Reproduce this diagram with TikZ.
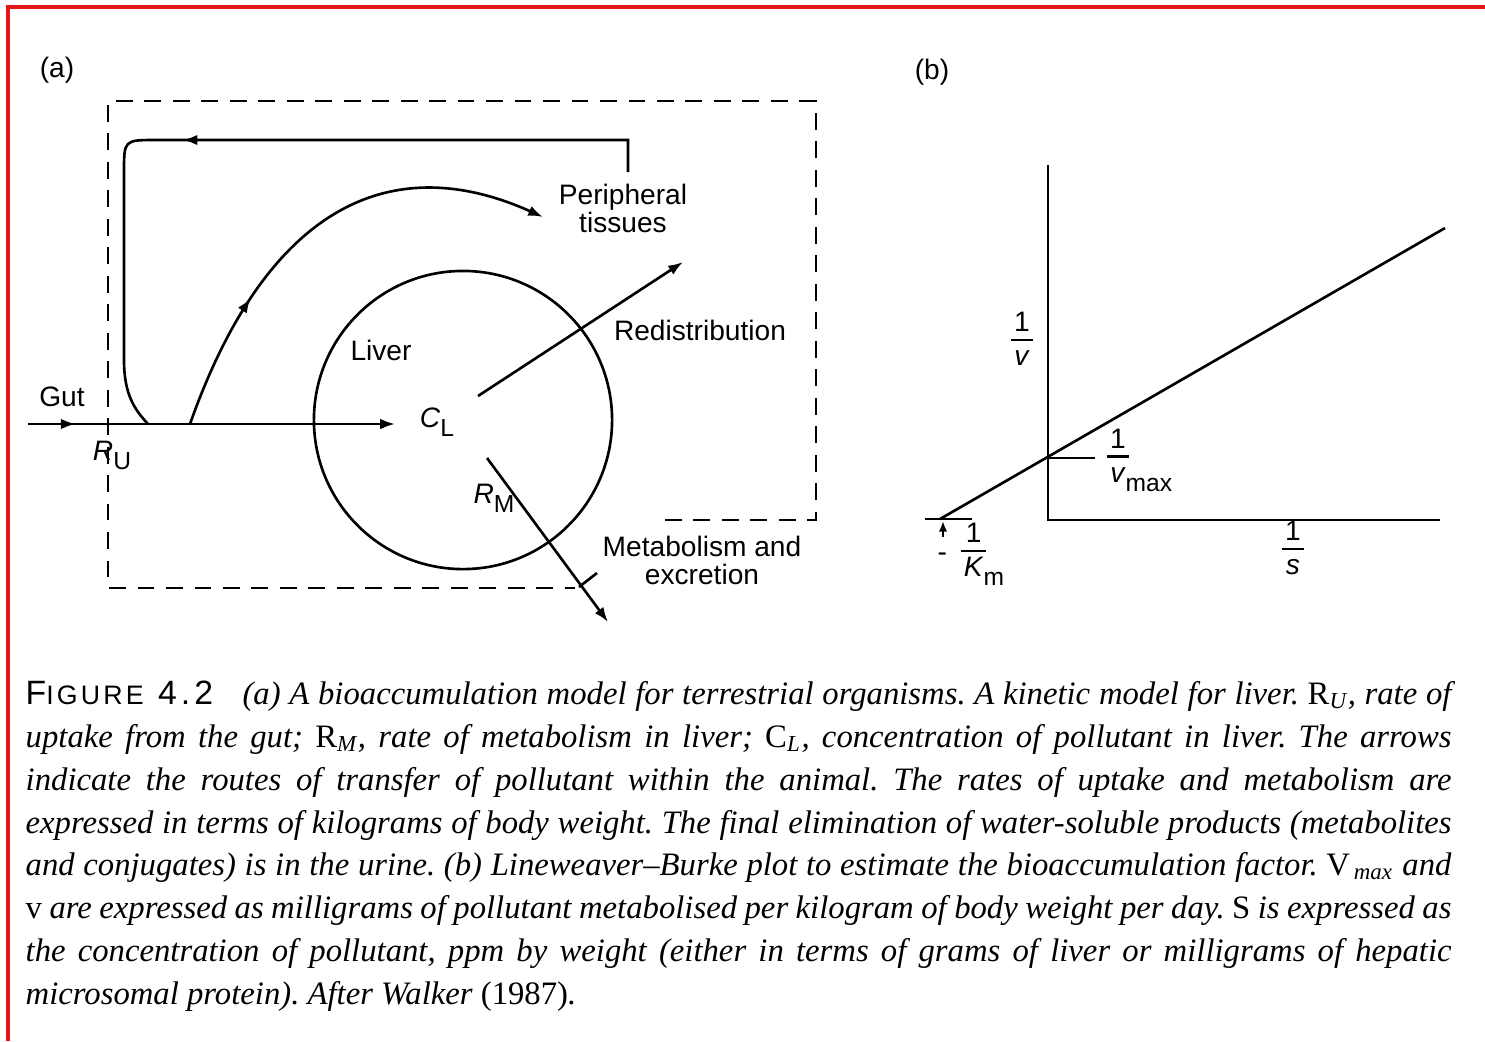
\documentclass[tikz,border=0pt]{standalone}
\usepackage{fontspec}
\setmainfont{Liberation Sans}
\newfontfamily\capfont[Ligatures=TeX]{Liberation Serif}
\newfontfamily\figfont[LetterSpace=12]{Liberation Sans}
\usetikzlibrary{arrows.meta,decorations.markings}
\definecolor{FrameRed}{RGB}{228,20,24}
\newcommand{\lsub}[1]{\raisebox{-0.6ex}{\fontsize{7}{8}\selectfont #1}}
\newcommand{\ofrac}[1]{\ensuremath{\vcenter{\hbox{\setlength{\arrayrulewidth}{0.6pt}%
  \begin{tabular}{@{\hspace{0.8pt}}c@{\hspace{0.8pt}}}1\\[-0.4pt]\hline\rule{0pt}{7pt}#1\end{tabular}}}}}
\tikzset{
  lbl/.style={font=\fontsize{8}{8}\selectfont,inner sep=0pt,align=center},
  bodybox/.style={line width=0.75pt,dash pattern=on 4.8pt off 3.3pt},
  route/.style={line width=0.75pt},
  flow/.style={route,-{Latex[length=4.2pt,width=3pt]}},
  arrowat/.style={postaction={decorate},decoration={markings,
    mark=at position #1 with {\arrow{Latex[length=4.2pt,width=3pt]}}}},
  axis/.style={line width=0.75pt},
  caption/.style={font=\capfont\itshape\fontsize{9.3}{12.2}\selectfont,
    text width=14.25cm,align=justify,inner sep=0pt,anchor=north west}
}

\begin{document}
\begin{tikzpicture}[x=0.01cm,y=-0.01cm]
\useasboundingbox (0,0) rectangle (1485,1041);
\draw[FrameRed,line width=1pt] (8,1041) -- (8,7) -- (1485,7);

% (a) kinetic model for the liver
\node[lbl] (tagA) at (57,70) {(a)};
\draw[bodybox] (665,520) -- (816,520) -- (816,101) -- (108,101) -- (108,588) -- (575,588);
\node[draw,circle,route,minimum size=2.98cm,inner sep=0pt] (liver) at (463,420) {};

\node[lbl] (livertxt) at (381,350) {Liver};
\node[lbl] (cl) at (437,422) {\textit{C}\lsub{L}};
\node[lbl] (gut) at (62,397) {Gut};
\node[lbl] (ru) at (112,455) {\textit{R}\lsub{U}};
\node[lbl] (rm) at (494,498) {\textit{R}\lsub{M}};
\node[lbl] (periph) at (623,208) {Peripheral\\tissues};
\node[lbl] (redis) at (700,330) {Redistribution};
\node[lbl] (metab) at (702,560) {Metabolism and\\excretion};

\coordinate (gutin) at (28,424);
\coordinate (uptake) at (395,424);
\coordinate (join) at (148,424);
\coordinate (split) at (190,424);
\coordinate (ptop) at (628,172);
\coordinate (toperiph) at (543,217);
\coordinate (clout) at (478,396);
\coordinate (redisend) at (683,262);
\coordinate (clmet) at (487,458);
\coordinate (excr) at (608,622);

\draw[flow,arrowat=0.13] (gutin) -- (uptake);
\draw[route,arrowat=4.77cm] (ptop) -- (628,140) -- (156,140)
  .. controls (124,140) .. (124,172) -- (124,360)
  .. controls (124,395) and (135,410) .. (join);
\draw[flow,arrowat=1.4cm] (split) .. controls (264,214) and (385,146) .. (toperiph);
\draw[flow] (clout) -- (redisend);
\draw[flow] (clmet) -- (excr);
\draw[route] (597,573) -- (579,587);

% (b) Lineweaver-Burke plot
\node[lbl] (tagB) at (932,72) {(b)};
\coordinate (O) at (1048,520);
\coordinate (kmpt) at (940,519);
\coordinate (topend) at (1445,228);
\draw[axis] (1048,165) -- (O) -- (1440,520);
\draw[axis] (kmpt) -- (topend);
\draw[axis] (1048,458) -- (1095,458);
\draw[axis] (925,519) -- (972,519);
\draw[route,-{Latex[length=3pt,width=2.4pt]}] (943,537) -- (943,521);

\node[lbl] (invv) at (1022,343) {\ofrac{\textit{v}}};
\node[lbl] (invvmax) at (1118,460) {\ofrac{\textit{v}\rlap{\lsub{max}}}};
\node[lbl] (invkm) at (962,554) {-\hspace{4pt}\ofrac{\textit{K}\rlap{\lsub{m}}}};
\node[lbl] (invs) at (1293,552) {\ofrac{\textit{s}}};

\node[caption] (cap) at (25,680) {\frenchspacing{\figfont\upshape\fontsize{9.6}{12}\selectfont F{\fontsize{7.6}{8}\selectfont IGURE} 4.2}\hspace{0.9em}(a) A bioaccumulation model for terrestrial organisms. A kinetic model for liver. \textup{R}\textsubscript{U}, rate of\linebreak
uptake from the gut; \textup{R}\textsubscript{M}, rate of metabolism in liver; \textup{C}\textsubscript{L}, concentration of pollutant in liver. The arrows\linebreak
indicate the routes of transfer of pollutant within the animal. The rates of uptake and metabolism are\linebreak
expressed in terms of kilograms of body weight. The final elimination of water-soluble products (metabolites\linebreak
and conjugates) is in the urine. (b) Lineweaver--Burke plot to estimate the bioaccumulation factor. \textup{V}\textsubscript{\,max} and\linebreak
\textup{v} are expressed as milligrams of pollutant metabolised per kilogram of body weight per day. \textup{S} is expressed as\linebreak
the concentration of pollutant, ppm by weight (either in terms of grams of liver or milligrams of hepatic\linebreak
microsomal protein). After Walker \textup{(1987)}.};
\end{tikzpicture}
\end{document}
